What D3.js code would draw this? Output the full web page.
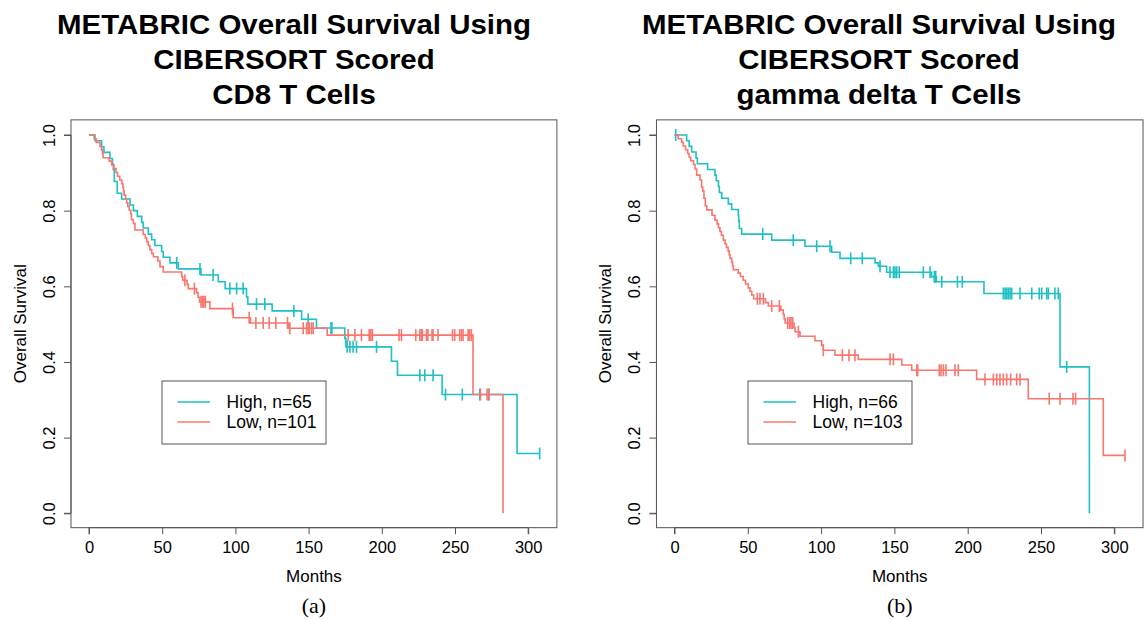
<!DOCTYPE html>
<html>
<head>
<meta charset="utf-8">
<script src="https://cdn.jsdelivr.net/npm/d3@7"></script>
<style>
  html, body { margin: 0; padding: 0; background: #fff; }
  svg { display: block; }
  text { font-family: "Liberation Sans", Arial, Helvetica, sans-serif; }
</style>
</head>
<body>
<svg id="chart" width="1147" height="620"></svg>
<script>
// ---------------- data ----------------
const monthTicks = [0, 50, 100, 150, 200, 250, 300];
const survivalTicks = [0.0, 0.2, 0.4, 0.6, 0.8, 1.0];
const survivalTickLabels = ["0.0", "0.2", "0.4", "0.6", "0.8", "1.0"];

const titlesA = ["METABRIC Overall Survival Using", "CIBERSORT Scored", "CD8 T Cells"];
const titlesB = ["METABRIC Overall Survival Using", "CIBERSORT Scored", "gamma delta T Cells"];
const legendA = ["High, n=65", "Low, n=101"];
const legendB = ["High, n=66", "Low, n=103"];
const captions = ["(a)", "(b)"];

// Panel (a): CD8 T cells
const cd8HighTimes = [4.1, 8.6, 10.2, 14.3, 16.0, 16.6, 17.3, 19.3, 22.3, 28, 30.3, 33, 36, 37, 40.5, 42.8, 45, 49.6, 50.7, 55.3, 61, 76.5, 88.3, 93, 107.6, 108.5, 125.1, 145.2, 155.4, 174.7, 175.5, 206.6, 210.7, 241.2, 292.4];
const cd8HighSurv  = [0.985, 0.969, 0.954, 0.938, 0.923, 0.908, 0.877, 0.846, 0.831, 0.815, 0.800, 0.785, 0.769, 0.754, 0.738, 0.723, 0.708, 0.692, 0.677, 0.662, 0.646, 0.630, 0.612, 0.594, 0.572, 0.553, 0.535, 0.513, 0.490, 0.462, 0.440, 0.402, 0.365, 0.314, 0.158];
const cd8HighCensor = [59.9, 75.8, 84.8, 96.2, 100.8, 105.3, 114.4, 120.1, 139.9, 149.7, 165.3, 165.9, 176.3, 178.2, 180.4, 182.7, 196.4, 226, 229.4, 235, 243.5, 255, 266.9, 273, 307.8];

const cd8LowTimes = [3.5, 5, 7.5, 8.6, 9.2, 9.6, 13.8, 15.5, 17, 18.5, 19.5, 21, 22.5, 23.2, 23.6, 24, 25, 25.7, 26.5, 27.5, 28.5, 29, 30.3, 31.4, 37, 38.5, 39.4, 40.5, 41.6, 42.8, 44, 47, 48.5, 50.7, 63.3, 64, 67, 67.8, 73.5, 74.5, 75.5, 82.6, 98.5, 110.3, 136.3, 162.7, 262.3, 282.8];
const cd8LowSurv  = [0.990, 0.980, 0.970, 0.960, 0.950, 0.940, 0.931, 0.921, 0.911, 0.901, 0.891, 0.881, 0.871, 0.861, 0.851, 0.841, 0.831, 0.821, 0.811, 0.801, 0.791, 0.776, 0.766, 0.749, 0.737, 0.728, 0.718, 0.708, 0.697, 0.687, 0.678, 0.667, 0.652, 0.638, 0.626, 0.616, 0.605, 0.594, 0.583, 0.571, 0.559, 0.541, 0.517, 0.503, 0.489, 0.471, 0.314, 0];
const cd8LowCensor = [65.5, 72, 76.5, 77.5, 78.5, 79.5, 98, 109.4, 114, 119, 123.1, 127.6, 135.6, 137.2, 146.3, 148.6, 149.7, 150.4, 152, 153.1, 177, 181.6, 186.1, 191.4, 192.5, 193.6, 211.8, 213.4, 223.2, 226, 227, 227.7, 230.5, 231.5, 234.3, 235, 238.4, 248.3, 249.8, 253.2, 254.4, 255.5, 259, 260, 261.2, 267.4, 271.9, 273.2];

// Panel (b): gamma delta T cells
const gdHighTimes = [8.3, 10, 11.7, 14.7, 15.6, 22.6, 27.6, 28.5, 30, 30.6, 32.2, 36.7, 39, 43.5, 43.8, 44.2, 45.8, 66.3, 89, 107.2, 112.9, 136.8, 139, 144.7, 175.4, 178.6, 211.1, 263, 283];
const gdHighSurv  = [0.985, 0.970, 0.955, 0.939, 0.924, 0.909, 0.894, 0.879, 0.864, 0.848, 0.833, 0.818, 0.803, 0.788, 0.773, 0.753, 0.738, 0.722, 0.706, 0.690, 0.674, 0.662, 0.653, 0.637, 0.625, 0.612, 0.581, 0.387, 0];
const gdHighCensor = [0.8, 60.2, 81, 97, 106.1, 120.2, 128.1, 140.2, 147, 149.3, 150.4, 151.6, 153.3, 169.7, 174.3, 177.2, 178.2, 182.3, 193, 196.3, 224.3, 225.5, 226.6, 227.7, 228.9, 230, 235.7, 243.7, 248.8, 250.5, 253.9, 255, 259.5, 261.8, 267.5];

const gdLowTimes = [2.5, 4.9, 6, 7.5, 9, 10, 11, 13, 14, 15.1, 17.4, 18.5, 19.3, 20.1, 21, 22, 25.6, 27.6, 29, 30, 31, 32, 33.3, 34.5, 35.5, 36.6, 37.3, 37.9, 39, 39.6, 40.1, 43.5, 45, 46.9, 48.5, 50.3, 51.5, 52.7, 54, 62, 64, 72.5, 74.2, 74.8, 75.4, 81.5, 82.2, 85.6, 95.8, 100.4, 101.5, 109.5, 125.4, 155, 161.8, 206.1, 241.3, 292.5];
const gdLowSurv  = [0.990, 0.981, 0.971, 0.961, 0.951, 0.942, 0.932, 0.922, 0.910, 0.894, 0.881, 0.862, 0.852, 0.833, 0.813, 0.802, 0.788, 0.775, 0.765, 0.755, 0.745, 0.735, 0.722, 0.712, 0.703, 0.693, 0.683, 0.674, 0.664, 0.654, 0.644, 0.635, 0.626, 0.616, 0.606, 0.596, 0.587, 0.577, 0.567, 0.557, 0.548, 0.537, 0.526, 0.514, 0.503, 0.491, 0.480, 0.468, 0.456, 0.444, 0.431, 0.418, 0.407, 0.392, 0.378, 0.354, 0.303, 0.153];
const gdLowCensor = [56.5, 58.3, 60.6, 66.3, 71.5, 77.2, 78.5, 79.5, 80.6, 84.5, 101.5, 114.5, 119, 123.1, 147, 149.3, 165.3, 165.9, 180.6, 181.8, 183.4, 185.2, 191.3, 193.6, 211.8, 217.5, 219.8, 222, 224.3, 226.6, 229.3, 233.4, 235.7, 255.6, 263, 271.8, 273.6, 307.3];

const highColor = "#1fc0c4";
const lowColor = "#f8766d";

// ---------------- drawing ----------------
const svg = d3.select("#chart");

function survAt(times, surv, t) {
  const i = d3.bisectRight(times, t);
  return i === 0 ? 1 : surv[i - 1];
}

function stepPoints(times, surv, censor) {
  const pts = [[0, 1]];
  let prev = 1;
  times.forEach((t, i) => {
    pts.push([t, prev]);
    pts.push([t, surv[i]]);
    prev = surv[i];
  });
  const last = Math.max(times[times.length - 1], d3.max(censor));
  if (last > times[times.length - 1]) pts.push([last, prev]);
  return pts;
}

function drawPanel(cfg) {
  const g = svg.append("g");
  const x = d3.scaleLinear().domain([0, 300]).range([cfg.x0, cfg.x300]);
  const y = d3.scaleLinear().domain([0, 1]).range([513.3, 135]);
  const left = x(-12.3), right = x(319.6), top = y(1.04), bottom = y(-0.038);

  // titles (slightly wide bold sans, as in the original)
  cfg.titles.forEach((t, i) => {
    g.append("text")
      .attr("transform", `translate(${cfg.titleX},${33.5 + i * 35}) scale(1.06,1)`)
      .attr("text-anchor", "middle").attr("font-size", 27.8).attr("font-weight", "bold")
      .attr("fill", "#000").text(t);
  });

  // axes
  const xAxis = d3.axisBottom(x).tickValues(monthTicks).tickSize(6.5).tickPadding(7)
    .tickFormat(d3.format("d"));
  const gx = g.append("g").attr("transform", `translate(0,${bottom})`).call(xAxis);
  gx.select(".domain").attr("stroke", "#555").attr("d", `M${x(0)},6.5V0H${x(300)}V6.5`);
  gx.selectAll(".tick line").attr("stroke", "#555");
  gx.selectAll("text").attr("font-size", 16.5).attr("fill", "#000")
    .attr("font-family", "Liberation Sans, Arial, sans-serif").attr("dy", "0.71em");

  const yAxis = d3.axisLeft(y).tickValues(survivalTicks).tickSize(7).tickPadding(0)
    .tickFormat((d, i) => survivalTickLabels[i]);
  const gy = g.append("g").attr("transform", `translate(${left},0)`).call(yAxis);
  gy.select(".domain").attr("stroke", "#555").attr("d", `M-7,${y(0)}H0V${y(1)}H-7`);
  gy.selectAll(".tick line").attr("stroke", "#555");
  gy.selectAll(".tick text").attr("font-size", 16.5).attr("fill", "#000")
    .attr("font-family", "Liberation Sans, Arial, sans-serif")
    .attr("text-anchor", "middle").attr("x", 0).attr("dy", 0)
    .attr("transform", "translate(-16,0) rotate(-90)");

  // box
  g.append("rect").attr("x", left).attr("y", top).attr("width", right - left)
    .attr("height", bottom - top).attr("fill", "none").attr("stroke", "#555").attr("stroke-width", 1);

  // axis titles
  g.append("text").attr("x", (left + right) / 2).attr("y", 582).attr("text-anchor", "middle")
    .attr("font-size", 17).text("Months");
  g.append("text").attr("transform", `translate(${left - 45},${(top + bottom) / 2}) rotate(-90)`)
    .attr("text-anchor", "middle").attr("font-size", 17).text("Overall Survival");
  g.append("text").attr("x", (left + right) / 2).attr("y", 613).attr("text-anchor", "middle")
    .attr("font-size", 22).style("font-family", "'Liberation Serif', 'DejaVu Serif', serif")
    .text(cfg.caption);

  // curves
  const line = d3.line().x(d => x(d[0])).y(d => y(d[1]));
  cfg.series.forEach(s => {
    g.append("path").attr("d", line(stepPoints(s.times, s.surv, s.censor)))
      .attr("fill", "none").attr("stroke", s.color).attr("stroke-width", 1.6);
    g.selectAll(null).data(s.censor).enter().append("line")
      .attr("x1", d => x(d)).attr("x2", d => x(d))
      .attr("y1", d => y(survAt(s.times, s.surv, d)) - 6)
      .attr("y2", d => y(survAt(s.times, s.surv, d)) + 6)
      .attr("stroke", s.color).attr("stroke-width", 1.6);
  });

  // legend
  const lx = cfg.legendX, ly = 381;
  g.append("rect").attr("x", lx).attr("y", ly).attr("width", 164).attr("height", 63)
    .attr("fill", "#fff").attr("stroke", "#555").attr("stroke-width", 1);
  cfg.series.forEach((s, i) => {
    const yy = ly + 21 + i * 20;
    g.append("line").attr("x1", lx + 15.5).attr("x2", lx + 48).attr("y1", yy).attr("y2", yy)
      .attr("stroke", s.color).attr("stroke-width", 1.6);
    g.append("text").attr("x", lx + 64.5).attr("y", yy + 6).attr("font-size", 17.5)
      .attr("fill", "#000").text(cfg.legend[i]);
  });
}

drawPanel({
  x0: 89, x300: 528.2, titleX: 294, legendX: 162, caption: captions[0],
  titles: titlesA, legend: legendA,
  series: [
    { times: cd8HighTimes, surv: cd8HighSurv, censor: cd8HighCensor, color: highColor },
    { times: cd8LowTimes, surv: cd8LowSurv, censor: cd8LowCensor, color: lowColor }
  ]
});
drawPanel({
  x0: 674.5, x300: 1114.3, titleX: 879, legendX: 748, caption: captions[1],
  titles: titlesB, legend: legendB,
  series: [
    { times: gdHighTimes, surv: gdHighSurv, censor: gdHighCensor, color: highColor },
    { times: gdLowTimes, surv: gdLowSurv, censor: gdLowCensor, color: lowColor }
  ]
});
</script>
</body>
</html>
